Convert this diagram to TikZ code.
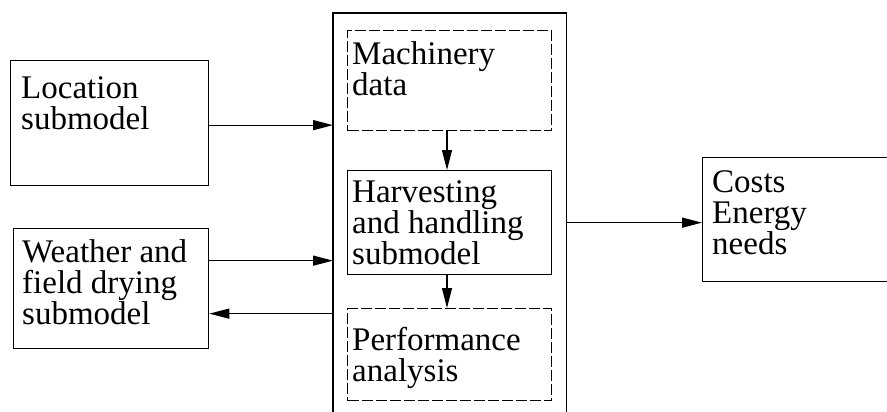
\documentclass[tikz,border=0pt]{standalone}
\usepackage{fontspec}
\setmainfont{Liberation Serif}
\usetikzlibrary{arrows.meta,calc}
\begin{document}
\begin{tikzpicture}[x=1pt,y=-1pt,
  box/.style={draw,line width=1.3pt,rectangle,inner sep=0pt,anchor=north west},
  dbox/.style={box,dash pattern=on 11pt off 3pt},
  lbl/.style={anchor=north west,inner sep=0pt,align=left,
    font=\fontsize{33}{31}\selectfont},
  arr/.style={line width=1.3pt,-{Triangle[length=20pt,width=10pt]}}]
\useasboundingbox (0,0) rectangle (887,412);
% side models
\node[box,minimum width=198pt,minimum height=125pt] (loc) at (10,60) {};
\node[lbl] (loct) at ($(loc.north west)+(11,16)$) {Location\\submodel};
\node[box,minimum width=195pt,minimum height=120pt] (wea) at (13,228) {};
\node[lbl] (weat) at ($(wea.north west)+(9,11)$) {Weather and\\field drying\\submodel};
% enclosing model frame (open at the bottom)
\node[rectangle,inner sep=0pt,anchor=north west,minimum width=233pt,minimum height=420pt] (outer) at (333,13) {};
\draw[line width=1.3pt] (outer.south west) -- (outer.north west) -- (outer.north east) -- (outer.south east);
% inner blocks
\node[dbox,minimum width=204pt,minimum height=100pt] (mach) at (347,30) {};
\node[lbl] (macht) at ($(mach.north west)+(5,11)$) {Machinery\\data};
\node[box,minimum width=204pt,minimum height=104pt] (harv) at (347,170) {};
\node[lbl,font=\fontsize{33}{29.5}\selectfont] (harvt) at ($(harv.north west)+(5,10)$) {Harvesting\\and handling\\submodel};
\node[dbox,minimum width=204pt,minimum height=92pt] (perf) at (347,308) {};
\node[lbl] (perft) at ($(perf.north west)+(5,19)$) {Performance\\analysis};
% results
\node[box,minimum width=200pt,minimum height=124pt] (cost) at (702,157) {};
\node[lbl] (costt) at ($(cost.north west)+(10,13)$) {Costs\\Energy\\needs};
% connector end points
\coordinate (locout) at ($(loc.east)+(0,2)$);
\coordinate (weain) at ($(wea.east)+(0,-28)$);
\coordinate (weaback) at ($(wea.east)+(0,25)$);
\coordinate (costin) at ($(cost.west)+(0,3)$);
\coordinate (mid) at (447,0);
% connectors
\draw[arr] (locout) -- (locout -| outer.west);
\draw[arr] (weain) -- (weain -| outer.west);
\draw[arr] (weaback -| outer.west) -- (weaback);
\draw[arr] (mach.south -| mid) -- (harv.north -| mid);
\draw[arr] (harv.south -| mid) -- (perf.north -| mid);
\draw[arr] (costin -| outer.east) -- (costin);
\end{tikzpicture}
\end{document}
